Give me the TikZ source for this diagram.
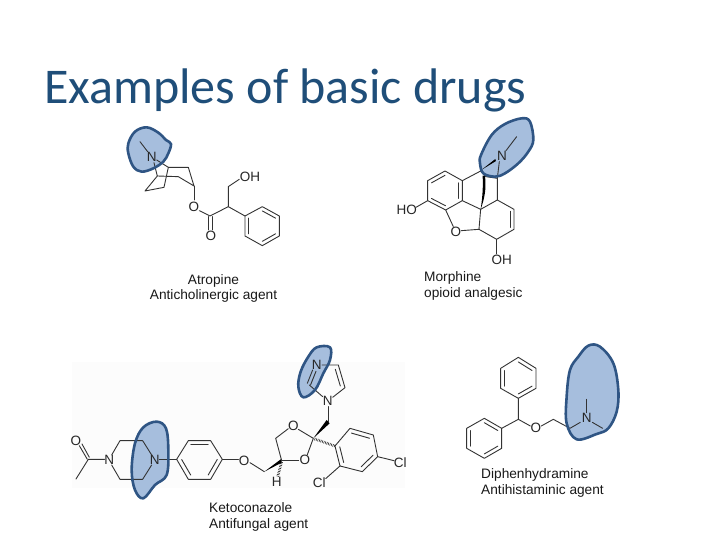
\documentclass[tikz,border=0pt]{standalone}
\usepackage{fontspec}
\setmainfont{Liberation Sans}
\newfontfamily\titlefont{Carlito}
\usetikzlibrary{calc}
\definecolor{titleblue}{HTML}{1F4E79}
\definecolor{blobfill}{HTML}{A6BEDD}
\definecolor{blobline}{HTML}{2F5584}
\definecolor{bondgrey}{HTML}{333333}
\tikzset{
  bond/.style={draw=bondgrey,line width=0.9pt,line join=round,line cap=round},
  atom/.style={inner sep=0pt,font=\fontsize{13.5}{14}\selectfont,text=black!85},
  captionleft/.style={inner sep=0pt,anchor=base west,font=\fontsize{13.7}{15}\selectfont,text=black!90},
  captionmid/.style={inner sep=0pt,anchor=base,font=\fontsize{13.7}{15}\selectfont,text=black!90},
  blobshape/.style={fill=blobfill,draw=none},
  bloboutline/.style={draw=blobline,line width=2.6pt,line join=round},
  hash/.style={draw=black,line width=2.6pt,dash pattern=on .5pt off 1.1pt},
  zoomA/.style={shift={(100,110)},x=.3333pt,y=-.3333pt},
  zoomB/.style={shift={(380,110)},x=.3333pt,y=-.3333pt},
  zoomC/.style={shift={(60,340)},x=.3333pt,y=-.3333pt},
  zoomD/.style={shift={(230,340)},x=.3333pt,y=-.3333pt},
  zoomE/.style={shift={(450,340)},x=.3333pt,y=-.3333pt},
}
\newcommand{\innerbond}[3]{\draw[bond] ($(#3)!.78!(#1)$) -- ($(#3)!.78!(#2)$);}
\newcommand{\blobA}{plot[smooth cycle,tension=.6] coordinates {(85,100)(105,65)(140,52)(175,68)(198,90)(213,102)(205,130)(190,155)(160,175)(125,185)(100,170)(85,130)}}
\newcommand{\blobB}{plot[smooth cycle,tension=.6] coordinates {(303,135)(335,75)(375,42)(425,25)(450,35)(460,90)(445,125)(415,160)(375,190)(345,200)(310,190)(300,160)}}
\newcommand{\blobC}{plot[smooth cycle,tension=.6] coordinates {(250,262)(290,245)(318,265)(325,330)(320,405)(285,435)(250,475)(225,450)(215,390)(225,310)}}
\newcommand{\blobD}{plot[smooth cycle,tension=.6] coordinates {(260,22)(300,22)(300,60)(280,100)(255,150)(220,172)(205,140)(212,95)(235,50)}}
\newcommand{\blobE}{plot[smooth cycle,tension=.6] coordinates {(415,17)(450,20)(490,70)(505,150)(500,215)(475,265)(440,282)(380,298)(350,250)(350,170)(360,90)(385,50)}}
\begin{document}
\begin{tikzpicture}[x=1pt,y=-1pt]
\useasboundingbox (0,0) rectangle (720,540);
\fill[white] (0,0) rectangle (720,540);
\fill[black!1] (72,362) rectangle (405,488);
\node[inner sep=0pt,anchor=base west,text=titleblue,font=\titlefont\fontsize{50}{52}\selectfont] (title) at (44,104) {Examples of basic drugs};

% Atropine
\begin{scope}[zoomA]
\path[blobshape] \blobA;
\node[atom] (aN) at (155,141) {N};
\node[atom] (aO) at (282,290) {O};
\node[atom] (aO2) at (333,378) {O};
\node[atom] (aOH) at (450,200) {OH};
\draw[bond] (120,95) -- (143,125);
\draw[bond] (170,150) -- (205,172) -- (265,172) -- (282,228) -- (235,200) -- (172,198) -- (162,158);
\draw[bond] (172,198) -- (135,243) -- (192,232) -- (205,172);
\draw[bond] (282,228) -- (282,270);
\draw[bond] (298,302) -- (330,318) -- (385,290) -- (385,230) -- (418,208);
\draw[bond] (326,320) -- (326,360);
\draw[bond] (336,320) -- (336,360);
\draw[bond] (385,290) -- (435,318);
\draw[bond] (435,318) -- (487,290) -- (538,318) -- (538,378) -- (487,407) -- (435,378) -- cycle;
\coordinate (a1) at (487,348);
\innerbond{487,290}{538,318}{a1}
\innerbond{538,378}{487,407}{a1}
\innerbond{435,378}{435,318}{a1}
\path[bloboutline] \blobA;
\end{scope}
\node[captionmid] (atname) at (213.5,284) {Atropine};
\node[captionmid] (atuse) at (213.5,299) {Anticholinergic agent};

% Morphine
\begin{scope}[zoomB]
\path[blobshape] \blobB;
\node[atom] (mN) at (366,138) {N};
\node[atom] (mHO) at (80,299) {HO};
\node[atom] (mO) at (228,365) {O};
\node[atom] (mOH) at (365,450) {OH};
\draw[bond] (410,80) -- (378,122);
\draw[bond] (143,212) -- (195,183) -- (247,212) -- (247,272) -- (197,300) -- (143,272) -- cycle;
\coordinate (m1) at (195,242);
\innerbond{195,183}{143,212}{m1}
\innerbond{247,212}{247,272}{m1}
\innerbond{197,300}{143,272}{m1}
\draw[bond] (143,272) -- (108,292);
\draw[bond] (247,212) -- (302,183) -- (318,200) -- (352,205) -- (352,270) -- (302,298) -- (247,272);
\draw[bond] (197,300) -- (220,350);
\draw[bond] (244,362) -- (297,358) -- (302,298);
\draw[bond] (297,358) -- (350,388) -- (402,358) -- (402,298) -- (352,270);
\draw[bond] (392,352) -- (392,304);
\draw[bond] (350,388) -- (350,432);
\draw[bond] (358,155) -- (352,205);
\fill[black] (346,147) -- (348,153) -- (304,180) -- cycle;
\fill[black] (315,197) .. controls (320,240) and (312,270) .. (302,298) .. controls (306,270) and (310,240) .. (308,197) -- cycle;
\path[bloboutline] \blobB;
\end{scope}
\node[captionleft] (mname) at (424,281.5) {Morphine};
\node[captionleft] (muse) at (424,297.5) {opioid analgesic};

% Ketoconazole, left part
\begin{scope}[zoomC]
\path[blobshape] \blobC;
\node[atom] (kO) at (48,303) {O};
\node[atom] (kN1) at (148,360) {N};
\node[atom] (kN2) at (284,360) {N};
\draw[bond] (58,317) -- (82,358);
\draw[bond] (66,312) -- (88,352);
\draw[bond] (48,417) -- (85,358) -- (134,358);
\draw[bond] (155,345) -- (180,302) -- (248,302) -- (275,345);
\draw[bond] (155,375) -- (180,418) -- (248,418) -- (275,375);
\draw[bond] (298,358) -- (350,358);
\draw[bond] (350,358) -- (385,302) -- (452,302) -- (487,358) -- (452,418) -- (385,418) -- cycle;
\coordinate (k1) at (418,360);
\innerbond{385,302}{452,302}{k1}
\innerbond{487,358}{452,418}{k1}
\innerbond{385,418}{350,358}{k1}
\draw[bond] (487,358) -- (535,358);
\path[bloboutline] \blobC;
\end{scope}

% Ketoconazole, right part
\begin{scope}[zoomD]
\path[blobshape] \blobD;
\node[atom] (kO3) at (42,362) {O};
\node[atom] (kO4) at (190,258) {O};
\node[atom] (kO5) at (225,360) {O};
\node[atom] (kN3) at (293,182) {N};
\node[atom] (kN4) at (260,75) {N};
\node[atom] (kH) at (140,427) {H};
\node[atom] (kCl1) at (511,367) {Cl};
\node[atom] (kCl2) at (268,428) {Cl};
\draw[bond] (0,358) -- (24,358);
\draw[bond] (60,368) -- (103,395);
\fill[black] (103,395) -- (155,356) -- (155,368) -- cycle;
\draw[bond] (155,362) -- (206,362);
\draw[bond] (155,362) -- (137,295) -- (175,266);
\draw[bond] (205,268) -- (250,295) -- (232,344);
\fill[black] (250,295) -- (290,240) -- (299,250) -- cycle;
\draw[bond] (295,245) -- (295,200);
\draw[bond] (308,172) -- (345,143) -- (325,75) -- (276,75);
\draw[bond] (331,138) -- (316,88);
\draw[bond] (248,90) -- (232,130);
\draw[bond] (258,94) -- (242,134);
\draw[bond] (238,135) -- (278,170);
\draw[hash] (155,366) -- (143,410);
\draw[hash] (254,297) -- (315,318);
\draw[bond] (315,318) -- (360,265) -- (430,285) -- (443,350) -- (397,395) -- (330,378) -- cycle;
\coordinate (k2) at (380,330);
\innerbond{360,265}{430,285}{k2}
\innerbond{443,350}{397,395}{k2}
\innerbond{330,378}{315,318}{k2}
\draw[bond] (443,350) -- (492,362);
\draw[bond] (330,378) -- (287,416);
\path[bloboutline] \blobD;
\end{scope}
\node[captionleft] (kname) at (209,512.5) {Ketoconazole};
\node[captionleft] (kuse) at (209,528) {Antifungal agent};

% Diphenhydramine
\begin{scope}[zoomE]
\path[blobshape] \blobE;
\node[atom] (dO) at (258,265) {O};
\node[atom] (dN) at (410,235) {N};
\draw[bond] (205,52) -- (258,85) -- (258,145) -- (205,175) -- (152,145) -- (152,85) -- cycle;
\coordinate (d1) at (205,115);
\innerbond{205,52}{258,85}{d1}
\innerbond{258,145}{205,175}{d1}
\innerbond{152,145}{152,85}{d1}
\draw[bond] (205,175) -- (205,238) -- (155,265);
\draw[bond] (155,265) -- (155,325) -- (103,355) -- (50,325) -- (50,265) -- (103,235) -- cycle;
\coordinate (d2) at (103,295);
\innerbond{103,235}{155,265}{d2}
\innerbond{155,325}{103,355}{d2}
\innerbond{50,325}{50,265}{d2}
\draw[bond] (205,238) -- (241,258);
\draw[bond] (274,258) -- (310,238) -- (360,265) -- (391,247);
\draw[bond] (410,218) -- (410,178);
\draw[bond] (427,247) -- (458,265);
\path[bloboutline] \blobE;
\end{scope}
\node[captionleft] (dname) at (481,478.5) {Diphenhydramine};
\node[captionleft] (duse) at (481,494.5) {Antihistaminic agent};
\end{tikzpicture}
\end{document}
